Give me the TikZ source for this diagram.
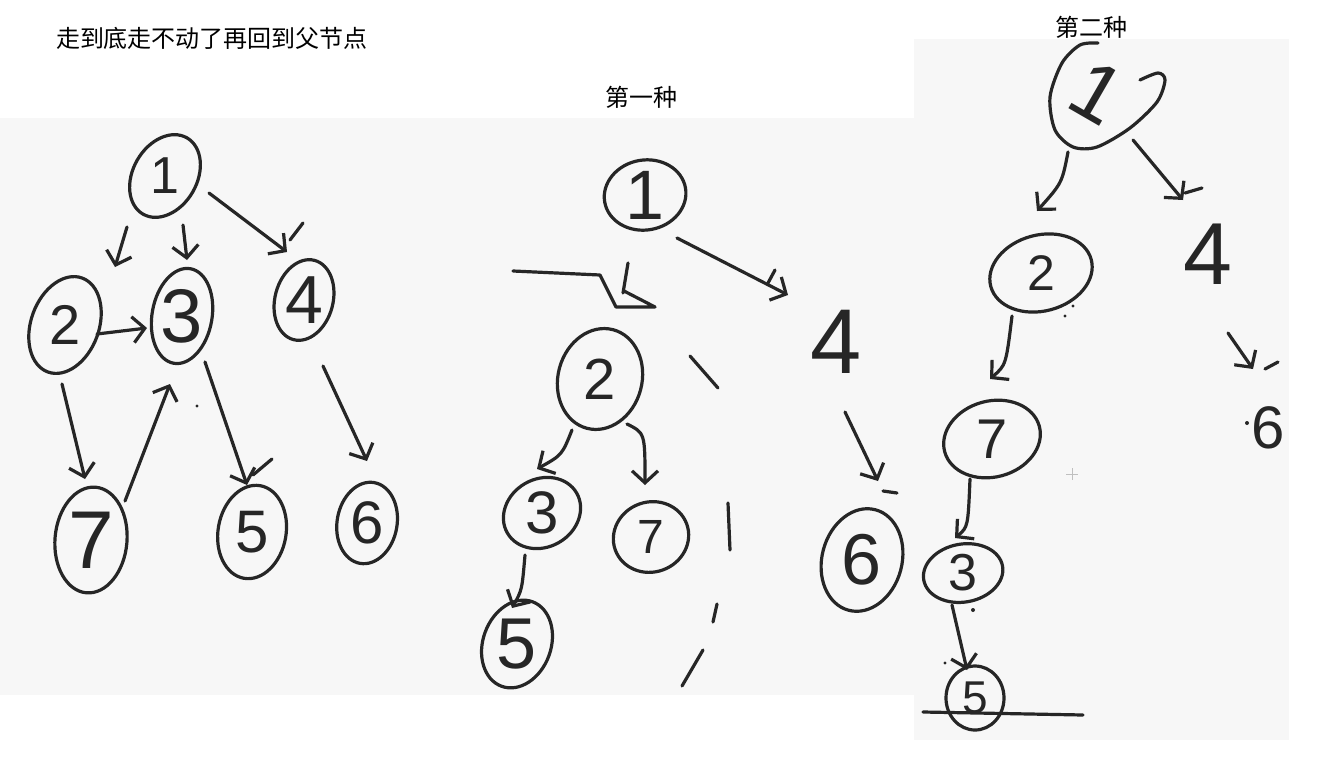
\documentclass[tikz,border=0pt]{standalone}
\usepackage{fontspec}
\newfontfamily\cjk{Noto Sans CJK SC}
\newfontfamily\hand{Liberation Sans}
\usetikzlibrary{calc,arrows.meta}
\definecolor{ink}{HTML}{262626}
\definecolor{paper}{HTML}{F7F7F7}
\newcommand\ringat[4]{\draw[pen, rotate around={#4:(#1)}] (#1) ellipse [x radius=#2, y radius=#3];}
\begin{document}
\begin{tikzpicture}[x=1pt,y=-1pt,
  pen/.style={draw=ink, line width=3.2pt, line cap=round, line join=round},
  arr/.style={pen, -{Straight Barb[length=12pt,width=26pt]}},
  dg/.style={inner sep=0pt, text=ink, font=\hand\fontsize{#1}{#1}\selectfont},
  title/.style={inner sep=0pt, font=\cjk\fontsize{24}{26}\selectfont},
  dot/.style={fill=ink, draw=none}]
\useasboundingbox (0,0) rectangle (1323,758);
% backgrounds
\fill[paper] (0,118) rectangle (915,695);
\fill[paper] (914,39) rectangle (1289,740);

% titles
\node[title] (t0) at (212,38) {走到底走不动了再回到父节点};
\node[title] (t1) at (641,97) {第一种};
\node[title] (t2) at (1091,27) {第二种};

% ---------- left tree ----------
\node[dg=52] (L1) at (165,176) {1};
\node[dg=56] (L2) at (65,325) {2};
\node[dg=76] (L3) at (182,316) {3};
\node[dg=68] (L4) at (304,300) {4};
\node[dg=82] (L7) at (91,540) {7};
\node[dg=60] (L5) at (252,532) {5};
\node[dg=60] (L6) at (367,523) {6};
\ringat{L1}{44}{32}{60}
\ringat{L2}{50}{34}{70}
\ringat{L3}{48}{30}{80}
\ringat{L4}{41}{29}{75}
\ringat{L7}{53}{36}{85}
\ringat{L5}{47}{34}{80}
\ringat{L6}{41}{30}{80}

\draw[arr] ($(L1)+(-38,51)$) -- ($(L2)+(50,-58)$);
\draw[arr] ($(L1)+(18,49)$) -- ($(L3)+(5,-56)$);
\draw[arr] ($(L1)+(44,17)$) -- ($(L4)+(-17,-48)$);
\draw[pen] ($(L4)+(-14,-60)$) -- ($(L4)+(-1,-77)$);
\draw[arr] ($(L2)+(32,9)$) -- ($(L3)+(-35,12)$);
\draw[arr] ($(L2)+(-3,59)$) -- ($(L7)+(-6,-61)$);
\draw[arr] ($(L7)+(34,-39)$) -- ($(L3)+(-12,68)$);
\draw[arr] ($(L3)+(23,46)$) -- ($(L5)+(-5,-47)$);
\draw[pen] ($(L5)+(1,-57)$) -- ($(L5)+(20,-73)$);
\draw[arr] ($(L4)+(19,66)$) -- ($(L6)+(0,-62)$);
\fill[ink] (197,406) circle (1.6);

% ---------- middle tree ----------
\node[dg=70] (M1) at (645,195) {1};
\node[dg=58] (M2) at (600,379) {2};
\node[dg=60] (M3) at (542,513) {3};
\node[dg=48] (M7) at (651,537) {7};
\node[dg=72] (M5) at (517,644) {5};
\node[dg=92] (M4) at (836,342) {4};
\node[dg=72] (M6) at (862,560) {6};
\ringat{M1}{41}{35}{10}
\ringat{M2}{51}{42}{75}
\ringat{M3}{40}{34}{30}
\ringat{M7}{38}{35}{20}
\ringat{M5}{45}{34}{70}
\ringat{M6}{52}{40}{75}

\draw[pen] ($(M1)+(-17,68)$) -- ($(M2)+(23,-86)$);
\draw[pen] ($(M2)+(-87,-108)$) -- ($(M2)+(0,-104)$) -- ($(M2)+(16,-72)$)
   -- ($(M2)+(55,-72)$) -- ($(M2)+(24,-88)$);
\draw[arr] ($(M1)+(32,43)$) -- ($(M4)+(-48,-47)$);
\draw[pen] ($(M4)+(-61,-72)$) -- ($(M4)+(-68,-59)$);
\draw[arr] ($(M4)+(9,70)$) -- ($(M6)+(16,-79)$);
\draw[pen] ($(M6)+(21,-69)$) -- ($(M6)+(35,-67)$);
\draw[arr] ($(M2)+(-28,51)$) .. controls ($(M2)+(-38,76)$) .. ($(M3)+(-5,-44)$);
\draw[arr] ($(M2)+(27,45)$) .. controls ($(M2)+(45,54)$) .. ($(M7)+(-6,-52)$);
\draw[arr] ($(M3)+(-17,42)$) .. controls ($(M3)+(-20,77)$) .. ($(M5)+(-5,-36)$);
% dashed back-track stroke
\draw[pen] (690,356) -- (718,388);
\draw[pen] (728,503) -- (730,550);
\draw[pen] (717,604) -- (713,622);
\draw[pen] (703,650) -- (682,686);

% ---------- right tree ----------
\node[dg=82, rotate=-30] (R1) at (1097,92) {1};
\node[dg=50] (R2) at (1041,273) {2};
\node[dg=88] (R4) at (1208,254) {4};
\node[dg=60] (R6) at (1268,428) {6};
\node[dg=56] (R7) at (992,439) {7};
\node[dg=52] (R3) at (963,573) {3};
\node[dg=46] (R5) at (975,698) {5};
\draw[pen] plot[smooth] coordinates {(1098,43) (1080,45) (1062,63) (1050,97) (1055,130)
  (1073,147) (1097,147) (1130,128) (1157,102) (1165,80) (1158,73) (1140,80)};
\ringat{R2}{52}{38}{15}
\ringat{R7}{49}{38}{15}
\ringat{R3}{40}{29}{10}
\ringat{R5}{29}{32}{0}

\draw[arr] ($(R1)+(-29,60)$) .. controls ($(R1)+(-35,91)$) .. ($(R2)+(-4,-62)$);
\draw[arr] ($(R1)+(36,48)$) -- ($(R4)+(-25,-54)$);
\draw[pen] ($(R4)+(-23,-61)$) -- ($(R4)+(-6,-66)$);
\draw[arr] ($(R4)+(20,79)$) -- ($(R6)+(-15,-59)$);
\draw[pen] ($(R6)+(-3,-59)$) -- ($(R6)+(10,-66)$);
\fill[ink] ($(R6)+(-21,-5)$) circle (2);
\draw[arr] ($(R2)+(-29,43)$) .. controls ($(R2)+(-35,92)$) .. ($(R7)+(-2,-60)$);
\fill[ink] (1073,306) circle (1.6);
\fill[ink] (1065,316) circle (1.6);
\draw[arr] ($(R7)+(-22,40)$) .. controls ($(R7)+(-24,88)$) .. ($(R3)+(-8,-35)$);
\draw[arr] ($(R3)+(-11,32)$) -- ($(R5)+(-8,-28)$);
\fill[ink] (973,610) circle (2);
\fill[ink] (945,663) circle (1.6);
\draw[pen] ($(R5)+(-52,14)$) -- ($(R5)+(108,17)$);
\draw[gray!50, line width=0.8pt] (1066,474) -- (1078,474) (1072,468) -- (1072,480);
\end{tikzpicture}
\end{document}
